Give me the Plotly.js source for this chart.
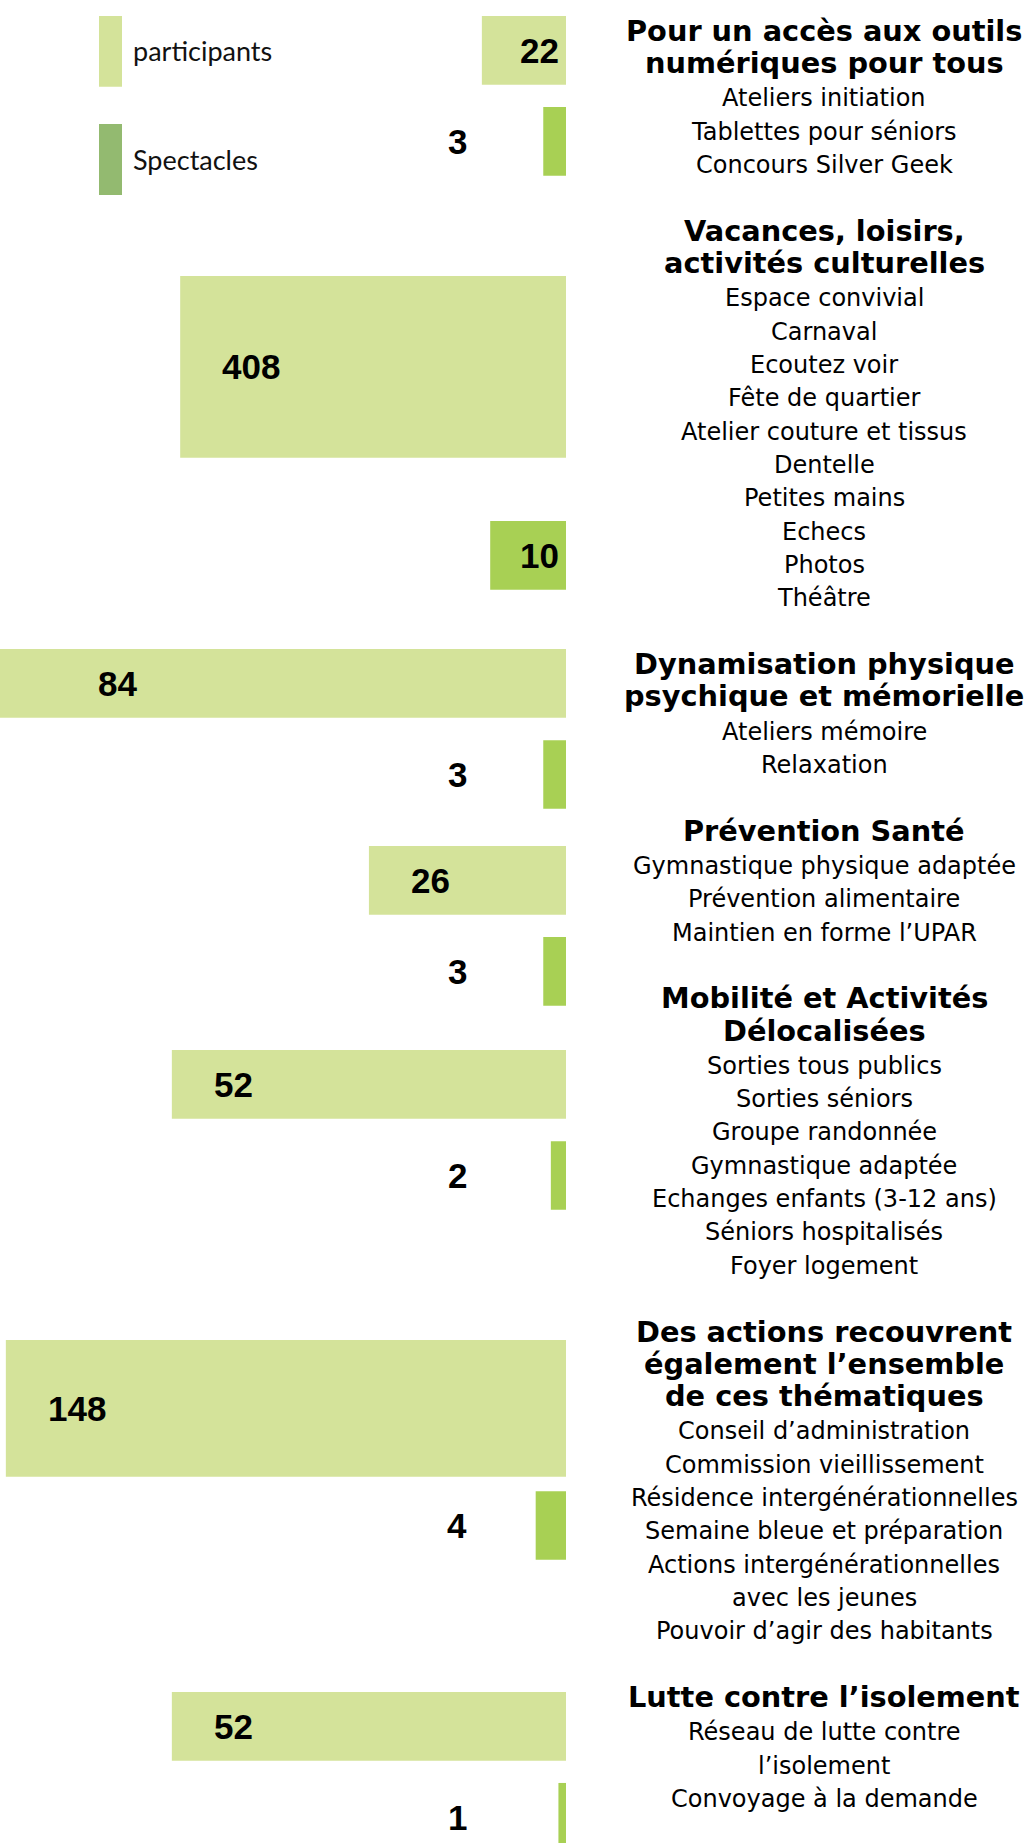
<!DOCTYPE html>
<html>
<head>
<meta charset="utf-8">
<script src="https://cdn.plot.ly/plotly-3.0.1.min.js"></script>
<style>html,body{margin:0;padding:0;background:#fff;}</style>
</head>
<body>
<div id="chart" style="width:1029px;height:1843px;"></div>
<script>
// ================= DATA =================
const seriesNames = ["participants", "Spectacles"];

// Themes (right-hand column): title lines and activity items
const themeTitles = [
  ["Pour un accès aux outils", "numériques pour tous"],
  ["Vacances, loisirs,", "activités culturelles"],
  ["Dynamisation physique", "psychique et mémorielle"],
  ["Prévention Santé"],
  ["Mobilité et Activités", "Délocalisées"],
  ["Des actions recouvrent", "également l’ensemble", "de ces thématiques"],
  ["Lutte contre l’isolement"]
];
const themeItems = [
  ["Ateliers initiation", "Tablettes pour séniors", "Concours Silver Geek"],
  ["Espace convivial", "Carnaval", "Ecoutez voir", "Fête de quartier", "Atelier couture et tissus",
   "Dentelle", "Petites mains", "Echecs", "Photos", "Théâtre"],
  ["Ateliers mémoire", "Relaxation"],
  ["Gymnastique physique adaptée", "Prévention alimentaire", "Maintien en forme l’UPAR"],
  ["Sorties tous publics", "Sorties séniors", "Groupe randonnée", "Gymnastique adaptée",
   "Echanges enfants (3-12 ans)", "Séniors hospitalisés", "Foyer logement"],
  ["Conseil d’administration", "Commission vieillissement", "Résidence intergénérationnelles",
   "Semaine bleue et préparation", "Actions intergénérationnelles", "avec les jeunes",
   "Pouvoir d’agir des habitants"],
  ["Réseau de lutte contre", "l’isolement", "Convoyage à la demande"]
];

// Values printed on the chart
const participants = [22, 408, 84, 26, 52, 148, 52];
const spectacles   = [3, 10, 3, 3, 2, 4, 1];
// Bar lengths as drawn in the picture (same unit scale; some bars are not drawn to value)
const participantsDrawn = [11.1, 50.9, 84, 26, 52, 73.9, 52];
const spectaclesDrawn   = [3, 10, 3, 3, 2, 4, 1];

// ================= LAYOUT / STYLE =================
const W = 1029, H = 1843;
const BASE_PX = 566;          // pixel position of the bars' common base (value 0)
const PX_PER_UNIT = 7.58;     // drawing scale
const xMax = BASE_PX / PX_PER_UNIT;

const COL_LIGHT = "#D4E39A";
const COL_DARK = "#A8D054";
const COL_LEGEND_DARK = "#93BA70";

// vertical slots of the bars (y axis runs in page pixels, top = 0)
const partSlotY = [50.3, 366.8, 683.3, 880.3, 1084.3, 1408.3, 1726.3];
const partSlotH = [68.7, 181.7, 68.7, 68.7, 68.7, 136.7, 68.7];
const specSlotY = [141.3, 555.3, 774.5, 971.3, 1175.5, 1525.5, 1817.3];
const specSlotH = [68.7, 68.7, 68.7, 68.7, 68.7, 68.7, 68.7];

// label placement modes
const partLabelPlace = ["base", "tip", "edge", "tip", "tip", "tip", "tip"];
const specLabelPlace = ["col", "base", "col", "col", "col", "col", "col"];

const FONT_BODY = "DejaVu Sans";
const FONT_NUM = "Liberation Sans";
const FONT_LEG = "Lato";

const traces = [
  {
    type: "bar", orientation: "h", name: seriesNames[0],
    x: participantsDrawn, y: partSlotY, width: partSlotH,
    marker: {color: COL_LIGHT, line: {width: 0}},
    customdata: participants, hoverinfo: "skip", showlegend: false
  },
  {
    type: "bar", orientation: "h", name: seriesNames[1],
    x: spectaclesDrawn, y: specSlotY, width: specSlotH,
    marker: {color: COL_DARK, line: {width: 0}},
    customdata: spectacles, hoverinfo: "skip", showlegend: false
  }
];

const annotations = [];
const shapes = [];

function numLabel(val, drawn, yv, mode) {
  const a = {
    text: "<b>" + val + "</b>", xref: "x", yref: "y", y: yv, yanchor: "middle",
    showarrow: false, font: {family: FONT_NUM, size: 35, color: "#000"}
  };
  if (mode === "tip") { a.x = drawn; a.xanchor = "left"; a.xshift = 40; }
  else if (mode === "base") { a.x = 0; a.xanchor = "right"; a.xshift = -5; }
  else if (mode === "edge") { a.x = xMax; a.xanchor = "left"; a.xshift = 96; }
  else { a.x = 0; a.xanchor = "center"; a.xshift = -109; }
  annotations.push(a);
}
participants.forEach((v, i) => numLabel(v, participantsDrawn[i], partSlotY[i], partLabelPlace[i]));
spectacles.forEach((v, i) => numLabel(v, spectaclesDrawn[i], specSlotY[i], specLabelPlace[i]));

// right-hand text column
const TEXT_CX = 824 / W;
const TITLE_FS = 28.8, ITEM_FS = 24;
const TITLE_STEP = 32.3, TITLE_TO_ITEM = 33.6, ITEM_STEP = 33.33, BLOCK_GAP = 67.4;
let base = 40.7;
themeTitles.forEach((lines, b) => {
  lines.forEach((t, j) => {
    if (j > 0) base += TITLE_STEP;
    annotations.push({
      text: "<b>" + t + "</b>", xref: "paper", yref: "y", x: TEXT_CX, y: base - 0.346 * TITLE_FS,
      xanchor: "center", yanchor: "middle", showarrow: false,
      font: {family: FONT_BODY, size: TITLE_FS, color: "#000"}
    });
  });
  themeItems[b].forEach((t, j) => {
    base += (j === 0 ? TITLE_TO_ITEM : ITEM_STEP);
    annotations.push({
      text: t, xref: "paper", yref: "y", x: TEXT_CX, y: base - 0.346 * ITEM_FS,
      xanchor: "center", yanchor: "middle", showarrow: false,
      font: {family: FONT_BODY, size: ITEM_FS, color: "#000"}
    });
  });
  base += BLOCK_GAP;
});

// legend (custom swatches)
const legend = [
  {name: seriesNames[0], color: COL_LIGHT, top: 16, bottom: 86.7, textY: 50.6},
  {name: seriesNames[1], color: COL_LEGEND_DARK, top: 124, bottom: 195, textY: 159.6}
];
legend.forEach(l => {
  shapes.push({
    type: "rect", xref: "paper", yref: "y", x0: 99 / W, x1: 122 / W, y0: l.top, y1: l.bottom,
    fillcolor: l.color, line: {width: 0}, layer: "above"
  });
  annotations.push({
    text: l.name, xref: "paper", yref: "y", x: 130.5 / W, y: l.textY,
    xanchor: "left", yanchor: "middle", showarrow: false,
    font: {family: FONT_LEG, size: 27, color: "#111"}
  });
});

const layout = {
  width: W, height: H,
  margin: {l: 0, r: 0, t: 0, b: 0, pad: 0},
  paper_bgcolor: "#fff", plot_bgcolor: "#fff",
  barmode: "overlay",
  showlegend: false,
  xaxis: {domain: [0, BASE_PX / W], range: [xMax, 0], visible: false, fixedrange: true},
  yaxis: {domain: [0, 1], range: [H, 0], visible: false, fixedrange: true},
  annotations: annotations,
  shapes: shapes
};

Plotly.newPlot("chart", traces, layout, {displayModeBar: false, staticPlot: true});
</script>
</body>
</html>
